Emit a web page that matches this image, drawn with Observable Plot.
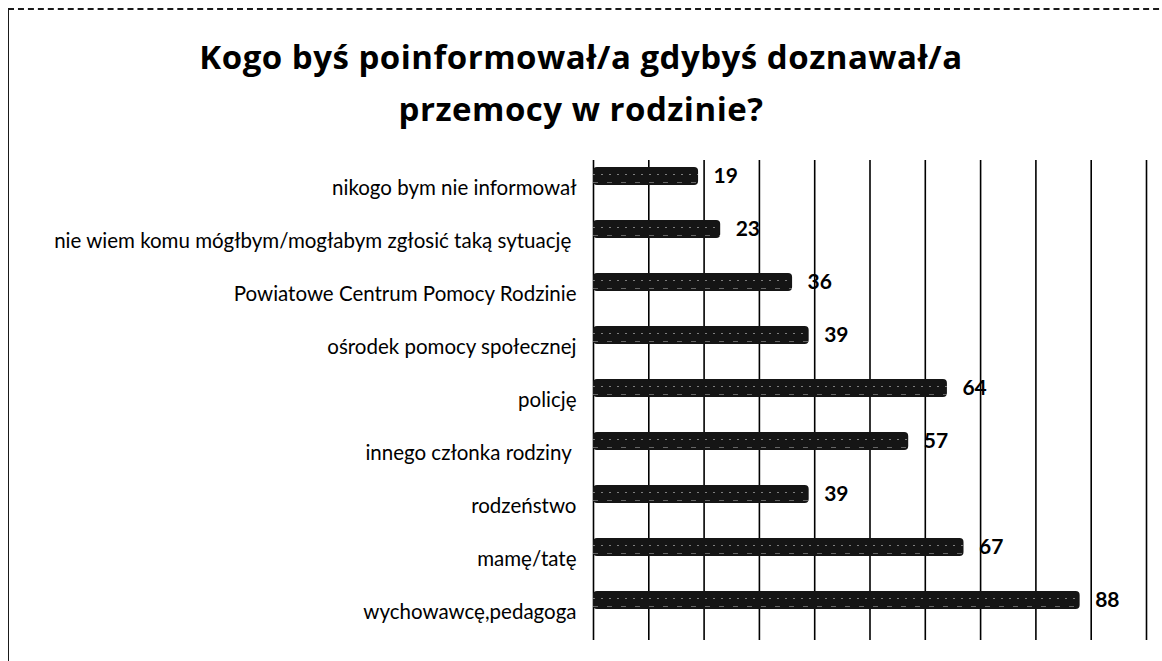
<!DOCTYPE html>
<html>
<head>
<meta charset="utf-8">
<script src="https://cdn.jsdelivr.net/npm/d3@7"></script>
<script src="https://cdn.jsdelivr.net/npm/@observablehq/plot@0.6"></script>
<style>
  html, body { margin: 0; padding: 0; background: #fff; }
  #frame { position: relative; width: 1162px; height: 661px; overflow: hidden; background: #fff; }
  #border { position: absolute; left: 8px; top: 8px; width: 1170px; height: 700px; z-index: 5;
            pointer-events: none;
            border-left: 1.5px solid #1a1a1a; border-top: 2px dashed #1a1a1a; }
  #title { position: relative; height: 150px; box-sizing: border-box; padding-top: 31px;
           text-align: center; font-family: "Open Sans", Lato, sans-serif; font-weight: bold;
           font-size: 33px; line-height: 52px; letter-spacing: 0.5px; color: #000; }
  #chart { position: relative; }
</style>
</head>
<body>
<div id="frame">
  <div id="border"></div>
  <div id="title">Kogo byś poinformował/a gdybyś doznawał/a<br>przemocy w rodzinie?</div>
  <div id="chart"></div>
</div>
<script>
const categories = [
  "nikogo bym nie informował",
  "nie wiem komu mógłbym/mogłabym zgłosić taką sytuację\u00a0",
  "Powiatowe Centrum Pomocy Rodzinie",
  "ośrodek pomocy społecznej",
  "policję",
  "innego członka rodziny\u00a0",
  "rodzeństwo",
  "mamę/tatę",
  "wychowawcę,pedagoga"
];
const values = [19, 23, 36, 39, 64, 57, 39, 67, 88];
const xTicks = [0, 10, 20, 30, 40, 50, 60, 70, 80, 90, 100];

const data = categories.map((c, i) => ({label: c, value: values[i]}));

const chart = Plot.plot({
  width: 1162,
  height: 511,
  marginLeft: 593,
  marginRight: 16,
  marginTop: 10,
  marginBottom: 21,
  style: {fontFamily: "Lato, 'Open Sans', sans-serif", fontSize: "20.5px", color: "#000", background: "transparent"},
  x: {domain: [0, 100], axis: null},
  y: {domain: categories, paddingInner: 0.66, paddingOuter: 0.33, label: null},
  marks: [
    Plot.gridX(xTicks, {stroke: "#000", strokeOpacity: 1, strokeWidth: 1.6}),
    Plot.barX(data, {x: "value", y: "label", fill: "#151515", rx: 4, dy: -12}),
    Plot.ruleY(data, {y: "label", x1: 0, x2: "value", stroke: "#fff", strokeOpacity: 0.45,
                      strokeWidth: 1, strokeDasharray: "2 6", dy: -14}),
    Plot.ruleY(data, {y: "label", x1: 0, x2: "value", stroke: "#fff", strokeOpacity: 0.35,
                      strokeWidth: 1, strokeDasharray: "5 9", dy: -6}),
    Plot.text(data, {x: "value", y: "label", text: d => String(d.value), dx: 15, dy: -12,
                     textAnchor: "start", fontSize: 21, fontWeight: "bold", fill: "#000"}),
    Plot.axisY({tickSize: 0, tickPadding: 17, fontSize: 20.5, label: null, fill: "#000"})
  ]
});
document.getElementById("chart").appendChild(chart);
</script>
</body>
</html>
